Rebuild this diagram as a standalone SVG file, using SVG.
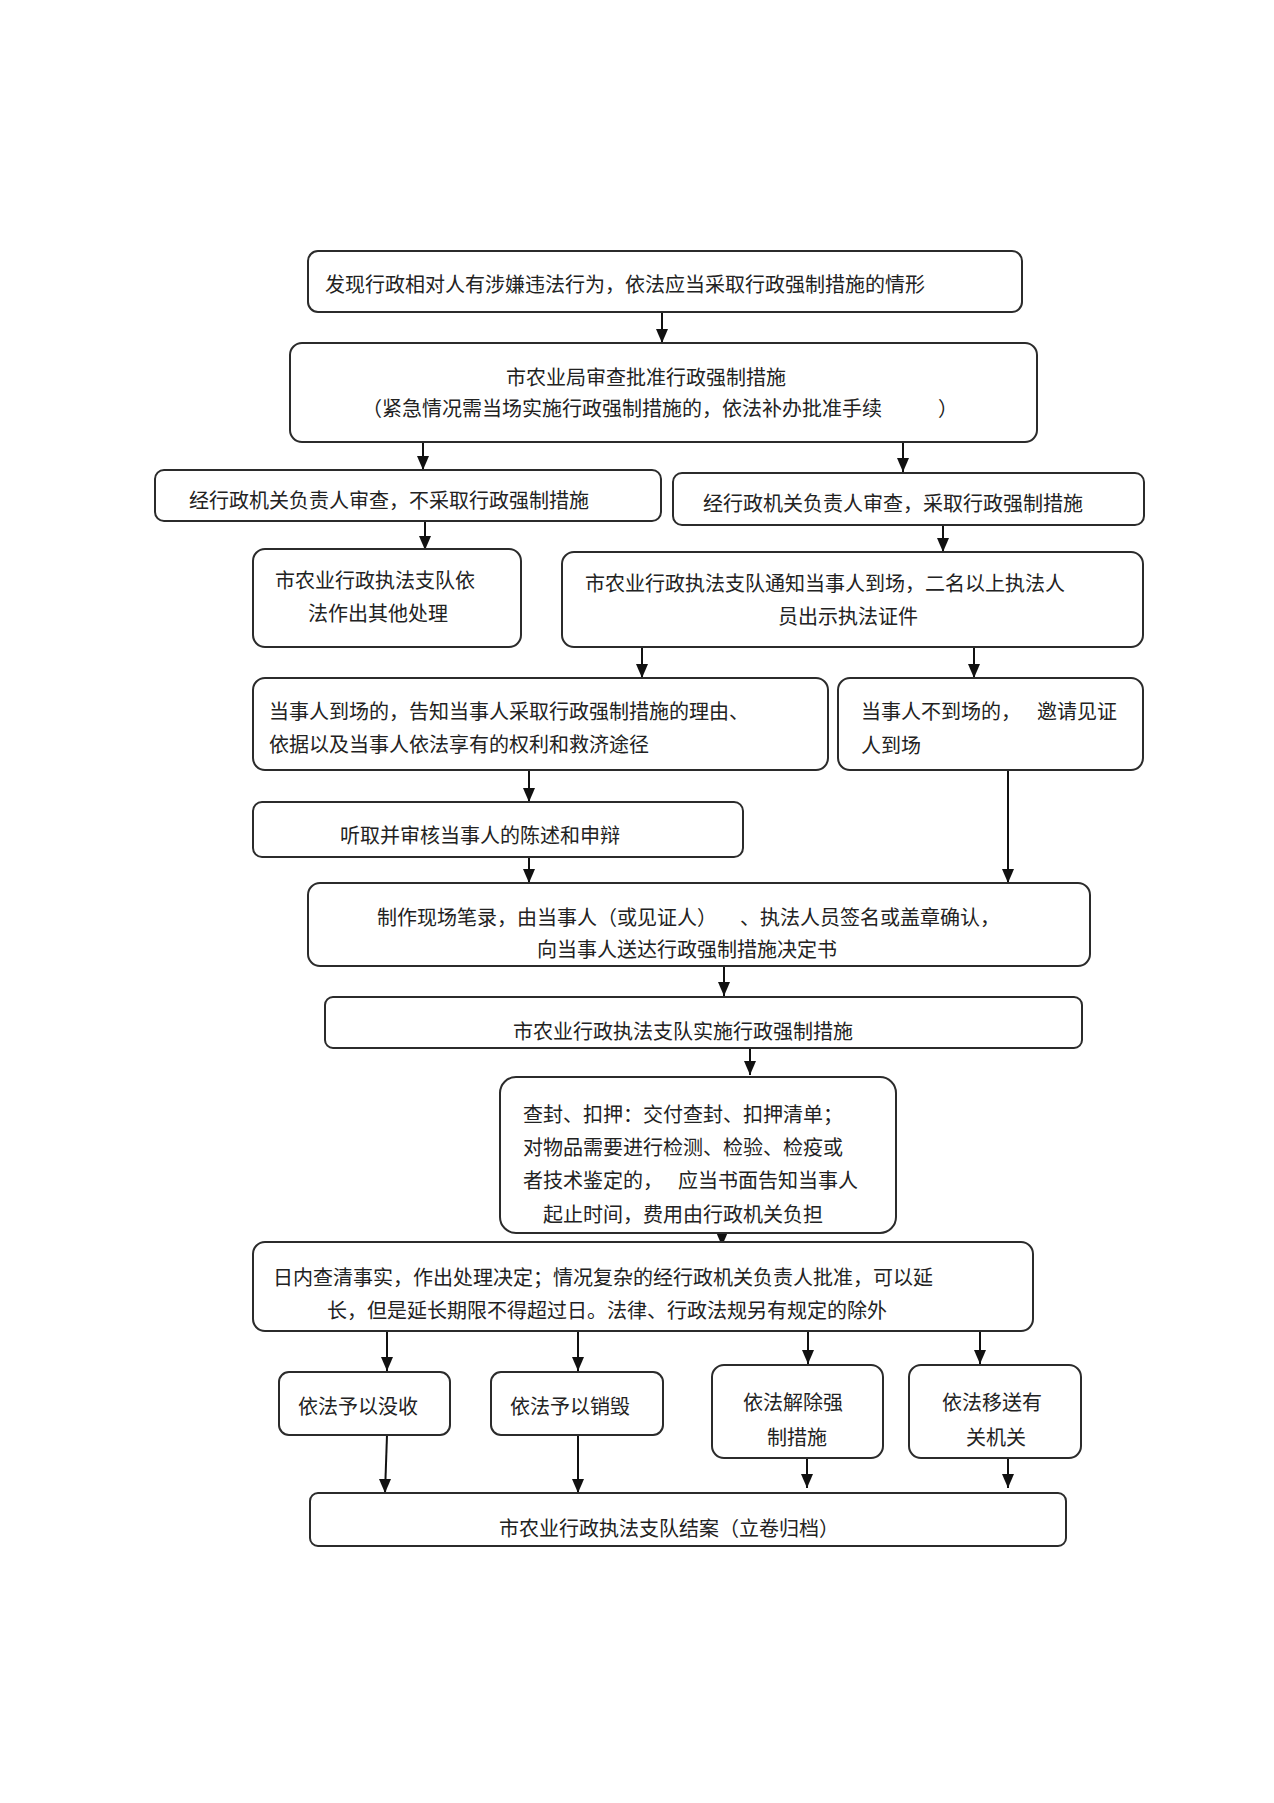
<svg xmlns="http://www.w3.org/2000/svg" width="1274" height="1803" viewBox="0 0 1274 1803">
<style>
.box{fill:#ffffff;stroke:#2b2b2b;stroke-width:2}
.t{font-family:"Noto Sans CJK SC","Noto Sans CJK JP",sans-serif;font-size:20px;fill:#222;dominant-baseline:central}
.c{stroke:#111;stroke-width:2;fill:none;marker-end:url(#ah)}
</style>
<defs>
<marker id="ah" markerUnits="userSpaceOnUse" markerWidth="12" markerHeight="14" viewBox="0 0 12 14" refX="6" refY="14" orient="0">
<path d="M0,0 L12,0 L6,14 Z" fill="#111"/>
</marker>
</defs>
<rect width="1274" height="1803" fill="#ffffff"/>
<g id="connectors">
<line class="c" x1="662" y1="312" x2="662" y2="343"/>
<line class="c" x1="423" y1="442" x2="423" y2="470"/>
<line class="c" x1="903" y1="436" x2="903" y2="472"/>
<line class="c" x1="425" y1="521" x2="425" y2="550"/>
<line class="c" x1="943" y1="525" x2="943" y2="552"/>
<line class="c" x1="642" y1="647" x2="642" y2="678"/>
<line class="c" x1="974" y1="647" x2="974" y2="678"/>
<line class="c" x1="529" y1="770" x2="529" y2="802"/>
<line class="c" x1="529" y1="857" x2="529" y2="883"/>
<line class="c" x1="1008" y1="770" x2="1008" y2="883"/>
<line class="c" x1="724" y1="966" x2="724" y2="996"/>
<line class="c" x1="750" y1="1048" x2="750" y2="1075"/>
<line class="c" x1="722" y1="1226" x2="722" y2="1246"/>
<line class="c" x1="387" y1="1331" x2="387" y2="1371"/>
<line class="c" x1="578" y1="1331" x2="578" y2="1371"/>
<line class="c" x1="808" y1="1331" x2="808" y2="1364"/>
<line class="c" x1="980" y1="1331" x2="980" y2="1364"/>
<line class="c" x1="387" y1="1435" x2="385" y2="1493"/>
<line class="c" x1="578" y1="1435" x2="578" y2="1493"/>
<line class="c" x1="807" y1="1458" x2="807" y2="1488"/>
<line class="c" x1="1008" y1="1458" x2="1008" y2="1488"/>
</g>
<g id="n1"><rect class="box" x="308" y="251" width="714" height="61" rx="10"/>
<text class="t" x="325" y="283">发现行政相对人有涉嫌违法行为，依法应当采取行政强制措施的情形</text></g>
<g id="n2"><rect class="box" x="290" y="343" width="747" height="99" rx="12"/>
<text class="t" x="506" y="376">市农业局审查批准行政强制措施</text>
<text class="t" x="362" y="407">（紧急情况需当场实施行政强制措施的，依法补办批准手续</text>
<text class="t" x="938" y="407">）</text></g>
<g id="n3"><rect class="box" x="155" y="470" width="506" height="51" rx="9"/>
<text class="t" x="189" y="499">经行政机关负责人审查，不采取行政强制措施</text></g>
<g id="n4"><rect class="box" x="673" y="473" width="471" height="52" rx="9"/>
<text class="t" x="703" y="502">经行政机关负责人审查，采取行政强制措施</text></g>
<g id="n5"><rect class="box" x="253" y="549" width="268" height="98" rx="12"/>
<text class="t" x="275" y="579">市农业行政执法支队依</text>
<text class="t" x="308" y="612">法作出其他处理</text></g>
<g id="n6"><rect class="box" x="562" y="552" width="581" height="95" rx="12"/>
<text class="t" x="585" y="582">市农业行政执法支队通知当事人到场，二名以上执法人</text>
<text class="t" x="778" y="615">员出示执法证件</text></g>
<g id="n7"><rect class="box" x="253" y="678" width="575" height="92" rx="12"/>
<text class="t" x="269" y="710">当事人到场的，告知当事人采取行政强制措施的理由、</text>
<text class="t" x="269" y="743">依据以及当事人依法享有的权利和救济途径</text></g>
<g id="n8"><rect class="box" x="838" y="678" width="305" height="92" rx="12"/>
<text class="t" x="861" y="710">当事人不到场的，</text>
<text class="t" x="1037" y="710">邀请见证</text>
<text class="t" x="861" y="744">人到场</text></g>
<g id="n9"><rect class="box" x="253" y="802" width="490" height="55" rx="9"/>
<text class="t" x="340" y="834">听取并审核当事人的陈述和申辩</text></g>
<g id="n10"><rect class="box" x="308" y="883" width="782" height="83" rx="12"/>
<text class="t" x="377" y="916">制作现场笔录，由当事人（或见证人）</text>
<text class="t" x="740" y="916">、执法人员签名或盖章确认，</text>
<text class="t" x="537" y="948">向当事人送达行政强制措施决定书</text></g>
<g id="n11"><rect class="box" x="325" y="997" width="757" height="51" rx="8"/>
<text class="t" x="513" y="1030">市农业行政执法支队实施行政强制措施</text></g>
<g id="n12"><rect class="box" x="500" y="1077" width="396" height="156" rx="16"/>
<text class="t" x="523" y="1113">查封、扣押：交付查封、扣押清单；</text>
<text class="t" x="523" y="1146">对物品需要进行检测、检验、检疫或</text>
<text class="t" x="523" y="1179">者技术鉴定的，</text>
<text class="t" x="678" y="1179">应当书面告知当事人</text>
<text class="t" x="543" y="1213">起止时间，费用由行政机关负担</text></g>
<g id="n13"><rect class="box" x="253" y="1242" width="780" height="89" rx="12"/>
<text class="t" x="273" y="1276">日内查清事实，作出处理决定；情况复杂的经行政机关负责人批准，可以延</text>
<text class="t" x="327" y="1309">长，但是延长期限不得超过日。法律、行政法规另有规定的除外</text></g>
<g id="n14"><rect class="box" x="279" y="1372" width="171" height="63" rx="10"/>
<text class="t" x="298" y="1405">依法予以没收</text></g>
<g id="n15"><rect class="box" x="491" y="1372" width="172" height="63" rx="10"/>
<text class="t" x="510" y="1405">依法予以销毁</text></g>
<g id="n16"><rect class="box" x="712" y="1365" width="171" height="93" rx="12"/>
<text class="t" x="743" y="1401">依法解除强</text>
<text class="t" x="767" y="1436">制措施</text></g>
<g id="n17"><rect class="box" x="909" y="1365" width="172" height="93" rx="12"/>
<text class="t" x="942" y="1401">依法移送有</text>
<text class="t" x="966" y="1436">关机关</text></g>
<g id="n18"><rect class="box" x="310" y="1493" width="756" height="53" rx="8"/>
<text class="t" x="499" y="1527">市农业行政执法支队结案（立卷归档）</text></g>
</svg>
